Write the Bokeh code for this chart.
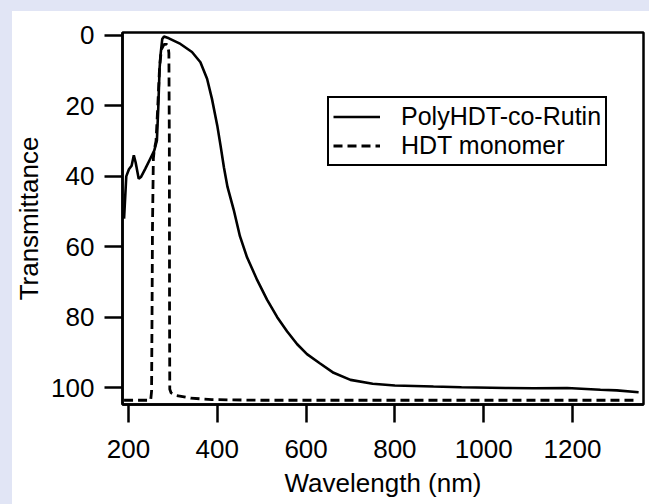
from bokeh.plotting import figure
from bokeh.models import Range1d, FixedTicker, Legend, LegendItem
from bokeh.embed import file_html
from bokeh.resources import INLINE

# PolyHDT-co-Rutin (solid)
poly_wl = [190, 195, 201, 207, 212, 216, 223, 228, 238, 249, 258, 264, 267, 270, 272, 276,
           280, 291, 317, 343, 362, 377, 388, 400, 407, 415, 423, 437, 451, 467, 490, 512,
           535, 557, 580, 602, 630, 662, 700, 750, 800, 887, 950, 1050, 1112, 1188, 1263,
           1300, 1349]
poly_t = [52, 40, 38, 37, 34, 36, 40.7, 40.2, 37.8, 35, 32.7, 29.8, 20.8, 9.5, 5.7, 1,
          0.3, 0.8, 2.4, 4.7, 7.6, 12.3, 18, 25.6, 31, 37.5, 43, 49.5, 57, 63, 69.5, 75,
          80, 84, 87.7, 90.5, 93, 95.8, 97.8, 98.9, 99.4, 99.7, 99.9, 100.1, 100.2, 100.1, 100.6,
          100.8, 101.3]

# HDT monomer (dashed)
mono_wl = [190, 250, 252, 253, 254, 256, 258, 262, 266, 270, 274, 280, 286, 289, 291, 292,
           292.5, 293, 296, 306, 340, 388, 500, 800, 1100, 1340]
mono_t = [103.6, 103.6, 101, 80, 55, 35, 32.5, 30, 20, 9, 4, 2.5, 2.5, 3, 5, 30,
          80, 100.5, 101.5, 102.2, 103.0, 103.4, 103.6, 103.6, 103.6, 103.6]

x_ticks = [200, 400, 600, 800, 1000, 1200]
y_ticks = [0, 20, 40, 60, 80, 100]

FONT = "Liberation Sans"
LAVENDER = "#e1e5f5"

p = figure(width=649, height=504, output_backend="svg", toolbar_location=None,
           x_range=Range1d(186.5, 1360), y_range=Range1d(104.8, -0.85),
           min_border_left=122, min_border_right=6, min_border_top=32, min_border_bottom=100,
           background_fill_color="white", border_fill_color=None)
p.grid.visible = False
p.outline_line_color = "black"
p.outline_line_width = 2.5
p.outline_line_alpha = 1

for ax in (p.xaxis[0], p.yaxis[0]):
    ax.axis_line_width = 2.5
    ax.axis_line_color = "black"
    ax.major_tick_line_width = 2.5
    ax.major_tick_line_color = "black"
    ax.major_tick_out = 18
    ax.major_tick_in = 0
    ax.minor_tick_line_color = None
    ax.major_label_text_font = FONT
    ax.major_label_text_font_size = "26px"
    ax.major_label_text_color = "black"
    ax.axis_label_text_font = FONT
    ax.axis_label_text_font_size = "26px"
    ax.axis_label_text_font_style = "normal"
    ax.axis_label_text_color = "black"

p.xaxis.ticker = FixedTicker(ticks=x_ticks)
p.yaxis.ticker = FixedTicker(ticks=y_ticks)
p.xaxis.axis_label = "Wavelength (nm)"
p.yaxis.axis_label = "Transmittance"
p.xaxis.major_label_standoff = 17
p.yaxis.major_label_standoff = 10
p.xaxis.axis_label_standoff = 7
p.yaxis.axis_label_standoff = 4

r1 = p.line(poly_wl, poly_t, line_color="black", line_width=2.6)
r2 = p.line(mono_wl, mono_t, line_color="black", line_width=2.8, line_dash="9 5")

legend = Legend(items=[LegendItem(label="PolyHDT-co-Rutin", renderers=[r1]),
                       LegendItem(label="HDT monomer", renderers=[r2])],
                location=(205, 238))
legend.label_text_font = FONT
legend.label_text_font_size = "25px"
legend.label_text_color = "black"
legend.glyph_width = 47
legend.glyph_height = 25
legend.label_height = 25
legend.label_standoff = 21
legend.spacing = 0
legend.padding = 4
legend.margin = 0
legend.border_line_color = "black"
legend.border_line_alpha = 1
legend.border_line_width = 2.5
legend.background_fill_color = "white"
legend.background_fill_alpha = 1
p.add_layout(legend, "center")

html = file_html(p, INLINE, title="Transmittance")
body_style = ("background: linear-gradient(90deg, %s 12px, rgba(255,255,255,0) 12px), "
              "linear-gradient(180deg, %s 11px, #ffffff 11px);" % (LAVENDER, LAVENDER))
html = html.replace("<body>", '<body style="%s">' % body_style)
open("out.html", "w").write(html)
